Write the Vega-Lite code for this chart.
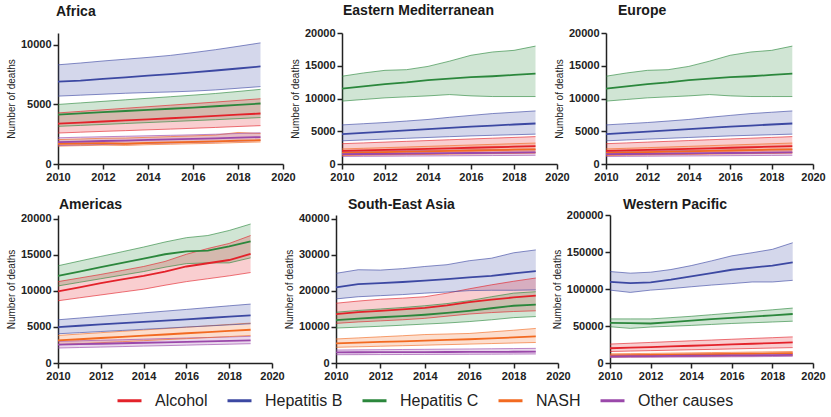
{
"$schema": "https://vega.github.io/schema/vega-lite/v6.json",
"padding": {"left": 6, "top": 4, "right": 2, "bottom": 2},
"datasets": {"d": [
{"r":"Africa","c":"Hepatitis B","y":2010,"m":6920,"lo":5700,"hi":8330},
{"r":"Africa","c":"Hepatitis B","y":2011,"m":7000,"lo":5780,"hi":8480},
{"r":"Africa","c":"Hepatitis B","y":2012,"m":7150,"lo":5860,"hi":8650},
{"r":"Africa","c":"Hepatitis B","y":2013,"m":7280,"lo":5940,"hi":8800},
{"r":"Africa","c":"Hepatitis B","y":2014,"m":7420,"lo":6000,"hi":8950},
{"r":"Africa","c":"Hepatitis B","y":2015,"m":7550,"lo":6050,"hi":9120},
{"r":"Africa","c":"Hepatitis B","y":2016,"m":7700,"lo":6120,"hi":9350},
{"r":"Africa","c":"Hepatitis B","y":2017,"m":7850,"lo":6220,"hi":9600},
{"r":"Africa","c":"Hepatitis B","y":2018,"m":8020,"lo":6360,"hi":9880},
{"r":"Africa","c":"Hepatitis B","y":2019,"m":8190,"lo":6500,"hi":10170},
{"r":"Africa","c":"Hepatitis C","y":2010,"m":4150,"lo":3160,"hi":5000},
{"r":"Africa","c":"Hepatitis C","y":2011,"m":4250,"lo":3240,"hi":5130},
{"r":"Africa","c":"Hepatitis C","y":2012,"m":4350,"lo":3320,"hi":5260},
{"r":"Africa","c":"Hepatitis C","y":2013,"m":4450,"lo":3400,"hi":5390},
{"r":"Africa","c":"Hepatitis C","y":2014,"m":4540,"lo":3480,"hi":5520},
{"r":"Africa","c":"Hepatitis C","y":2015,"m":4640,"lo":3560,"hi":5650},
{"r":"Africa","c":"Hepatitis C","y":2016,"m":4740,"lo":3640,"hi":5780},
{"r":"Africa","c":"Hepatitis C","y":2017,"m":4850,"lo":3720,"hi":5920},
{"r":"Africa","c":"Hepatitis C","y":2018,"m":4960,"lo":3810,"hi":6090},
{"r":"Africa","c":"Hepatitis C","y":2019,"m":5080,"lo":3900,"hi":6270},
{"r":"Africa","c":"Alcohol","y":2010,"m":3390,"lo":2600,"hi":4290},
{"r":"Africa","c":"Alcohol","y":2011,"m":3480,"lo":2670,"hi":4420},
{"r":"Africa","c":"Alcohol","y":2012,"m":3570,"lo":2740,"hi":4550},
{"r":"Africa","c":"Alcohol","y":2013,"m":3660,"lo":2800,"hi":4680},
{"r":"Africa","c":"Alcohol","y":2014,"m":3750,"lo":2870,"hi":4810},
{"r":"Africa","c":"Alcohol","y":2015,"m":3840,"lo":2930,"hi":4940},
{"r":"Africa","c":"Alcohol","y":2016,"m":3940,"lo":3000,"hi":5070},
{"r":"Africa","c":"Alcohol","y":2017,"m":4040,"lo":3070,"hi":5200},
{"r":"Africa","c":"Alcohol","y":2018,"m":4140,"lo":3150,"hi":5340},
{"r":"Africa","c":"Alcohol","y":2019,"m":4240,"lo":3220,"hi":5480},
{"r":"Africa","c":"NASH","y":2010,"m":1700,"lo":1500,"hi":2050},
{"r":"Africa","c":"NASH","y":2011,"m":1720,"lo":1540,"hi":2100},
{"r":"Africa","c":"NASH","y":2012,"m":1760,"lo":1580,"hi":2160},
{"r":"Africa","c":"NASH","y":2013,"m":1700,"lo":1560,"hi":2180},
{"r":"Africa","c":"NASH","y":2014,"m":1780,"lo":1620,"hi":2240},
{"r":"Africa","c":"NASH","y":2015,"m":1820,"lo":1660,"hi":2300},
{"r":"Africa","c":"NASH","y":2016,"m":1860,"lo":1700,"hi":2360},
{"r":"Africa","c":"NASH","y":2017,"m":1900,"lo":1740,"hi":2430},
{"r":"Africa","c":"NASH","y":2018,"m":1960,"lo":1800,"hi":2650},
{"r":"Africa","c":"NASH","y":2019,"m":2000,"lo":1850,"hi":2560},
{"r":"Africa","c":"Other causes","y":2010,"m":1840,"lo":1550,"hi":2200},
{"r":"Africa","c":"Other causes","y":2011,"m":1880,"lo":1600,"hi":2250},
{"r":"Africa","c":"Other causes","y":2012,"m":1930,"lo":1640,"hi":2290},
{"r":"Africa","c":"Other causes","y":2013,"m":1970,"lo":1680,"hi":2330},
{"r":"Africa","c":"Other causes","y":2014,"m":2020,"lo":1730,"hi":2370},
{"r":"Africa","c":"Other causes","y":2015,"m":2060,"lo":1770,"hi":2410},
{"r":"Africa","c":"Other causes","y":2016,"m":2110,"lo":1810,"hi":2450},
{"r":"Africa","c":"Other causes","y":2017,"m":2160,"lo":1860,"hi":2500},
{"r":"Africa","c":"Other causes","y":2018,"m":2210,"lo":1920,"hi":2560},
{"r":"Africa","c":"Other causes","y":2019,"m":2260,"lo":1980,"hi":2620},
{"r":"Eastern Mediterranean","c":"Hepatitis C","y":2010,"m":11500,"lo":9600,"hi":13400},
{"r":"Eastern Mediterranean","c":"Hepatitis C","y":2011,"m":11850,"lo":9850,"hi":13900},
{"r":"Eastern Mediterranean","c":"Hepatitis C","y":2012,"m":12200,"lo":10100,"hi":14300},
{"r":"Eastern Mediterranean","c":"Hepatitis C","y":2013,"m":12450,"lo":10250,"hi":14400},
{"r":"Eastern Mediterranean","c":"Hepatitis C","y":2014,"m":12800,"lo":10400,"hi":14900},
{"r":"Eastern Mediterranean","c":"Hepatitis C","y":2015,"m":13050,"lo":10600,"hi":15700},
{"r":"Eastern Mediterranean","c":"Hepatitis C","y":2016,"m":13250,"lo":10400,"hi":16600},
{"r":"Eastern Mediterranean","c":"Hepatitis C","y":2017,"m":13400,"lo":10300,"hi":17100},
{"r":"Eastern Mediterranean","c":"Hepatitis C","y":2018,"m":13600,"lo":10300,"hi":17350},
{"r":"Eastern Mediterranean","c":"Hepatitis C","y":2019,"m":13800,"lo":10300,"hi":18000},
{"r":"Eastern Mediterranean","c":"Hepatitis B","y":2010,"m":4560,"lo":3540,"hi":5970},
{"r":"Eastern Mediterranean","c":"Hepatitis B","y":2011,"m":4750,"lo":3670,"hi":6150},
{"r":"Eastern Mediterranean","c":"Hepatitis B","y":2012,"m":4950,"lo":3800,"hi":6330},
{"r":"Eastern Mediterranean","c":"Hepatitis B","y":2013,"m":5130,"lo":3920,"hi":6560},
{"r":"Eastern Mediterranean","c":"Hepatitis B","y":2014,"m":5320,"lo":4050,"hi":6800},
{"r":"Eastern Mediterranean","c":"Hepatitis B","y":2015,"m":5520,"lo":4170,"hi":7130},
{"r":"Eastern Mediterranean","c":"Hepatitis B","y":2016,"m":5700,"lo":4290,"hi":7420},
{"r":"Eastern Mediterranean","c":"Hepatitis B","y":2017,"m":5870,"lo":4380,"hi":7700},
{"r":"Eastern Mediterranean","c":"Hepatitis B","y":2018,"m":6030,"lo":4470,"hi":7900},
{"r":"Eastern Mediterranean","c":"Hepatitis B","y":2019,"m":6180,"lo":4560,"hi":8100},
{"r":"Eastern Mediterranean","c":"Alcohol","y":2010,"m":2000,"lo":1400,"hi":3100},
{"r":"Eastern Mediterranean","c":"Alcohol","y":2011,"m":2080,"lo":1440,"hi":3220},
{"r":"Eastern Mediterranean","c":"Alcohol","y":2012,"m":2160,"lo":1480,"hi":3340},
{"r":"Eastern Mediterranean","c":"Alcohol","y":2013,"m":2240,"lo":1520,"hi":3460},
{"r":"Eastern Mediterranean","c":"Alcohol","y":2014,"m":2320,"lo":1560,"hi":3580},
{"r":"Eastern Mediterranean","c":"Alcohol","y":2015,"m":2400,"lo":1600,"hi":3700},
{"r":"Eastern Mediterranean","c":"Alcohol","y":2016,"m":2480,"lo":1640,"hi":3820},
{"r":"Eastern Mediterranean","c":"Alcohol","y":2017,"m":2560,"lo":1680,"hi":3940},
{"r":"Eastern Mediterranean","c":"Alcohol","y":2018,"m":2640,"lo":1720,"hi":4060},
{"r":"Eastern Mediterranean","c":"Alcohol","y":2019,"m":2720,"lo":1760,"hi":4180},
{"r":"Eastern Mediterranean","c":"NASH","y":2010,"m":1700,"lo":1300,"hi":2300},
{"r":"Eastern Mediterranean","c":"NASH","y":2011,"m":1760,"lo":1340,"hi":2400},
{"r":"Eastern Mediterranean","c":"NASH","y":2012,"m":1820,"lo":1380,"hi":2500},
{"r":"Eastern Mediterranean","c":"NASH","y":2013,"m":1880,"lo":1420,"hi":2600},
{"r":"Eastern Mediterranean","c":"NASH","y":2014,"m":1940,"lo":1460,"hi":2700},
{"r":"Eastern Mediterranean","c":"NASH","y":2015,"m":2000,"lo":1500,"hi":2800},
{"r":"Eastern Mediterranean","c":"NASH","y":2016,"m":2060,"lo":1540,"hi":2900},
{"r":"Eastern Mediterranean","c":"NASH","y":2017,"m":2120,"lo":1580,"hi":3000},
{"r":"Eastern Mediterranean","c":"NASH","y":2018,"m":2180,"lo":1620,"hi":3100},
{"r":"Eastern Mediterranean","c":"NASH","y":2019,"m":2240,"lo":1660,"hi":3200},
{"r":"Eastern Mediterranean","c":"Other causes","y":2010,"m":1500,"lo":1150,"hi":1900},
{"r":"Eastern Mediterranean","c":"Other causes","y":2011,"m":1530,"lo":1170,"hi":1940},
{"r":"Eastern Mediterranean","c":"Other causes","y":2012,"m":1560,"lo":1190,"hi":1980},
{"r":"Eastern Mediterranean","c":"Other causes","y":2013,"m":1590,"lo":1210,"hi":2020},
{"r":"Eastern Mediterranean","c":"Other causes","y":2014,"m":1620,"lo":1230,"hi":2060},
{"r":"Eastern Mediterranean","c":"Other causes","y":2015,"m":1650,"lo":1250,"hi":2100},
{"r":"Eastern Mediterranean","c":"Other causes","y":2016,"m":1680,"lo":1270,"hi":2140},
{"r":"Eastern Mediterranean","c":"Other causes","y":2017,"m":1710,"lo":1290,"hi":2180},
{"r":"Eastern Mediterranean","c":"Other causes","y":2018,"m":1740,"lo":1310,"hi":2220},
{"r":"Eastern Mediterranean","c":"Other causes","y":2019,"m":1770,"lo":1330,"hi":2260},
{"r":"Europe","c":"Hepatitis C","y":2010,"m":11500,"lo":9600,"hi":13400},
{"r":"Europe","c":"Hepatitis C","y":2011,"m":11850,"lo":9850,"hi":13900},
{"r":"Europe","c":"Hepatitis C","y":2012,"m":12200,"lo":10100,"hi":14300},
{"r":"Europe","c":"Hepatitis C","y":2013,"m":12450,"lo":10250,"hi":14400},
{"r":"Europe","c":"Hepatitis C","y":2014,"m":12800,"lo":10400,"hi":14900},
{"r":"Europe","c":"Hepatitis C","y":2015,"m":13050,"lo":10600,"hi":15700},
{"r":"Europe","c":"Hepatitis C","y":2016,"m":13250,"lo":10400,"hi":16600},
{"r":"Europe","c":"Hepatitis C","y":2017,"m":13400,"lo":10300,"hi":17100},
{"r":"Europe","c":"Hepatitis C","y":2018,"m":13600,"lo":10300,"hi":17350},
{"r":"Europe","c":"Hepatitis C","y":2019,"m":13800,"lo":10300,"hi":18000},
{"r":"Europe","c":"Hepatitis B","y":2010,"m":4560,"lo":3540,"hi":5970},
{"r":"Europe","c":"Hepatitis B","y":2011,"m":4750,"lo":3670,"hi":6150},
{"r":"Europe","c":"Hepatitis B","y":2012,"m":4950,"lo":3800,"hi":6330},
{"r":"Europe","c":"Hepatitis B","y":2013,"m":5130,"lo":3920,"hi":6560},
{"r":"Europe","c":"Hepatitis B","y":2014,"m":5320,"lo":4050,"hi":6800},
{"r":"Europe","c":"Hepatitis B","y":2015,"m":5520,"lo":4170,"hi":7130},
{"r":"Europe","c":"Hepatitis B","y":2016,"m":5700,"lo":4290,"hi":7420},
{"r":"Europe","c":"Hepatitis B","y":2017,"m":5870,"lo":4380,"hi":7700},
{"r":"Europe","c":"Hepatitis B","y":2018,"m":6030,"lo":4470,"hi":7900},
{"r":"Europe","c":"Hepatitis B","y":2019,"m":6180,"lo":4560,"hi":8100},
{"r":"Europe","c":"Alcohol","y":2010,"m":2000,"lo":1400,"hi":3100},
{"r":"Europe","c":"Alcohol","y":2011,"m":2080,"lo":1440,"hi":3220},
{"r":"Europe","c":"Alcohol","y":2012,"m":2160,"lo":1480,"hi":3340},
{"r":"Europe","c":"Alcohol","y":2013,"m":2240,"lo":1520,"hi":3460},
{"r":"Europe","c":"Alcohol","y":2014,"m":2320,"lo":1560,"hi":3580},
{"r":"Europe","c":"Alcohol","y":2015,"m":2400,"lo":1600,"hi":3700},
{"r":"Europe","c":"Alcohol","y":2016,"m":2480,"lo":1640,"hi":3820},
{"r":"Europe","c":"Alcohol","y":2017,"m":2560,"lo":1680,"hi":3940},
{"r":"Europe","c":"Alcohol","y":2018,"m":2640,"lo":1720,"hi":4060},
{"r":"Europe","c":"Alcohol","y":2019,"m":2720,"lo":1760,"hi":4180},
{"r":"Europe","c":"NASH","y":2010,"m":1700,"lo":1300,"hi":2300},
{"r":"Europe","c":"NASH","y":2011,"m":1760,"lo":1340,"hi":2400},
{"r":"Europe","c":"NASH","y":2012,"m":1820,"lo":1380,"hi":2500},
{"r":"Europe","c":"NASH","y":2013,"m":1880,"lo":1420,"hi":2600},
{"r":"Europe","c":"NASH","y":2014,"m":1940,"lo":1460,"hi":2700},
{"r":"Europe","c":"NASH","y":2015,"m":2000,"lo":1500,"hi":2800},
{"r":"Europe","c":"NASH","y":2016,"m":2060,"lo":1540,"hi":2900},
{"r":"Europe","c":"NASH","y":2017,"m":2120,"lo":1580,"hi":3000},
{"r":"Europe","c":"NASH","y":2018,"m":2180,"lo":1620,"hi":3100},
{"r":"Europe","c":"NASH","y":2019,"m":2240,"lo":1660,"hi":3200},
{"r":"Europe","c":"Other causes","y":2010,"m":1500,"lo":1150,"hi":1900},
{"r":"Europe","c":"Other causes","y":2011,"m":1530,"lo":1170,"hi":1940},
{"r":"Europe","c":"Other causes","y":2012,"m":1560,"lo":1190,"hi":1980},
{"r":"Europe","c":"Other causes","y":2013,"m":1590,"lo":1210,"hi":2020},
{"r":"Europe","c":"Other causes","y":2014,"m":1620,"lo":1230,"hi":2060},
{"r":"Europe","c":"Other causes","y":2015,"m":1650,"lo":1250,"hi":2100},
{"r":"Europe","c":"Other causes","y":2016,"m":1680,"lo":1270,"hi":2140},
{"r":"Europe","c":"Other causes","y":2017,"m":1710,"lo":1290,"hi":2180},
{"r":"Europe","c":"Other causes","y":2018,"m":1740,"lo":1310,"hi":2220},
{"r":"Europe","c":"Other causes","y":2019,"m":1770,"lo":1330,"hi":2260},
{"r":"Americas","c":"Hepatitis C","y":2010,"m":12100,"lo":10700,"hi":13500},
{"r":"Americas","c":"Hepatitis C","y":2011,"m":12700,"lo":11200,"hi":14150},
{"r":"Americas","c":"Hepatitis C","y":2012,"m":13300,"lo":11700,"hi":14800},
{"r":"Americas","c":"Hepatitis C","y":2013,"m":13900,"lo":12200,"hi":15450},
{"r":"Americas","c":"Hepatitis C","y":2014,"m":14500,"lo":12700,"hi":16100},
{"r":"Americas","c":"Hepatitis C","y":2015,"m":15100,"lo":13300,"hi":16800},
{"r":"Americas","c":"Hepatitis C","y":2016,"m":15500,"lo":13800,"hi":17400},
{"r":"Americas","c":"Hepatitis C","y":2017,"m":15600,"lo":13900,"hi":17700},
{"r":"Americas","c":"Hepatitis C","y":2018,"m":16200,"lo":13900,"hi":18400},
{"r":"Americas","c":"Hepatitis C","y":2019,"m":16900,"lo":14600,"hi":19300},
{"r":"Americas","c":"Alcohol","y":2010,"m":9930,"lo":8640,"hi":11300},
{"r":"Americas","c":"Alcohol","y":2011,"m":10500,"lo":9050,"hi":11800},
{"r":"Americas","c":"Alcohol","y":2012,"m":11100,"lo":9450,"hi":12300},
{"r":"Americas","c":"Alcohol","y":2013,"m":11600,"lo":9850,"hi":12850},
{"r":"Americas","c":"Alcohol","y":2014,"m":12100,"lo":10250,"hi":13400},
{"r":"Americas","c":"Alcohol","y":2015,"m":12700,"lo":10800,"hi":14100},
{"r":"Americas","c":"Alcohol","y":2016,"m":13400,"lo":11300,"hi":15100},
{"r":"Americas","c":"Alcohol","y":2017,"m":13850,"lo":11700,"hi":15900},
{"r":"Americas","c":"Alcohol","y":2018,"m":14300,"lo":12100,"hi":16600},
{"r":"Americas","c":"Alcohol","y":2019,"m":15150,"lo":12560,"hi":17700},
{"r":"Americas","c":"Hepatitis B","y":2010,"m":4990,"lo":4060,"hi":6000},
{"r":"Americas","c":"Hepatitis B","y":2011,"m":5170,"lo":4210,"hi":6240},
{"r":"Americas","c":"Hepatitis B","y":2012,"m":5350,"lo":4370,"hi":6480},
{"r":"Americas","c":"Hepatitis B","y":2013,"m":5530,"lo":4520,"hi":6720},
{"r":"Americas","c":"Hepatitis B","y":2014,"m":5710,"lo":4680,"hi":6960},
{"r":"Americas","c":"Hepatitis B","y":2015,"m":5890,"lo":4830,"hi":7200},
{"r":"Americas","c":"Hepatitis B","y":2016,"m":6070,"lo":4990,"hi":7440},
{"r":"Americas","c":"Hepatitis B","y":2017,"m":6250,"lo":5140,"hi":7690},
{"r":"Americas","c":"Hepatitis B","y":2018,"m":6430,"lo":5300,"hi":7940},
{"r":"Americas","c":"Hepatitis B","y":2019,"m":6600,"lo":5450,"hi":8180},
{"r":"Americas","c":"NASH","y":2010,"m":3140,"lo":2540,"hi":3830},
{"r":"Americas","c":"NASH","y":2011,"m":3300,"lo":2680,"hi":4020},
{"r":"Americas","c":"NASH","y":2012,"m":3470,"lo":2820,"hi":4210},
{"r":"Americas","c":"NASH","y":2013,"m":3630,"lo":2960,"hi":4400},
{"r":"Americas","c":"NASH","y":2014,"m":3800,"lo":3100,"hi":4590},
{"r":"Americas","c":"NASH","y":2015,"m":3960,"lo":3240,"hi":4780},
{"r":"Americas","c":"NASH","y":2016,"m":4130,"lo":3380,"hi":4970},
{"r":"Americas","c":"NASH","y":2017,"m":4290,"lo":3520,"hi":5160},
{"r":"Americas","c":"NASH","y":2018,"m":4460,"lo":3670,"hi":5350},
{"r":"Americas","c":"NASH","y":2019,"m":4620,"lo":3830,"hi":5540},
{"r":"Americas","c":"Other causes","y":2010,"m":2540,"lo":2080,"hi":3000},
{"r":"Americas","c":"Other causes","y":2011,"m":2610,"lo":2150,"hi":3080},
{"r":"Americas","c":"Other causes","y":2012,"m":2670,"lo":2210,"hi":3160},
{"r":"Americas","c":"Other causes","y":2013,"m":2740,"lo":2280,"hi":3230},
{"r":"Americas","c":"Other causes","y":2014,"m":2810,"lo":2350,"hi":3310},
{"r":"Americas","c":"Other causes","y":2015,"m":2870,"lo":2410,"hi":3390},
{"r":"Americas","c":"Other causes","y":2016,"m":2940,"lo":2480,"hi":3470},
{"r":"Americas","c":"Other causes","y":2017,"m":3010,"lo":2550,"hi":3540},
{"r":"Americas","c":"Other causes","y":2018,"m":3070,"lo":2610,"hi":3620},
{"r":"Americas","c":"Other causes","y":2019,"m":3140,"lo":2680,"hi":3700},
{"r":"South-East Asia","c":"Hepatitis B","y":2010,"m":21000,"lo":17800,"hi":24900},
{"r":"South-East Asia","c":"Hepatitis B","y":2011,"m":21900,"lo":18400,"hi":25900},
{"r":"South-East Asia","c":"Hepatitis B","y":2012,"m":22200,"lo":18700,"hi":25800},
{"r":"South-East Asia","c":"Hepatitis B","y":2013,"m":22500,"lo":19000,"hi":26200},
{"r":"South-East Asia","c":"Hepatitis B","y":2014,"m":22900,"lo":19400,"hi":26800},
{"r":"South-East Asia","c":"Hepatitis B","y":2015,"m":23300,"lo":19700,"hi":27300},
{"r":"South-East Asia","c":"Hepatitis B","y":2016,"m":23800,"lo":20100,"hi":28400},
{"r":"South-East Asia","c":"Hepatitis B","y":2017,"m":24200,"lo":20200,"hi":29100},
{"r":"South-East Asia","c":"Hepatitis B","y":2018,"m":24900,"lo":20200,"hi":30600},
{"r":"South-East Asia","c":"Hepatitis B","y":2019,"m":25500,"lo":20300,"hi":31400},
{"r":"South-East Asia","c":"Alcohol","y":2010,"m":13600,"lo":11000,"hi":16600},
{"r":"South-East Asia","c":"Alcohol","y":2011,"m":14100,"lo":11400,"hi":17200},
{"r":"South-East Asia","c":"Alcohol","y":2012,"m":14500,"lo":11700,"hi":17700},
{"r":"South-East Asia","c":"Alcohol","y":2013,"m":14900,"lo":12000,"hi":18000},
{"r":"South-East Asia","c":"Alcohol","y":2014,"m":15300,"lo":12400,"hi":18400},
{"r":"South-East Asia","c":"Alcohol","y":2015,"m":16000,"lo":13000,"hi":19400},
{"r":"South-East Asia","c":"Alcohol","y":2016,"m":16900,"lo":13600,"hi":20600},
{"r":"South-East Asia","c":"Alcohol","y":2017,"m":17600,"lo":14000,"hi":21700},
{"r":"South-East Asia","c":"Alcohol","y":2018,"m":18200,"lo":14300,"hi":22700},
{"r":"South-East Asia","c":"Alcohol","y":2019,"m":18700,"lo":14500,"hi":23600},
{"r":"South-East Asia","c":"Hepatitis C","y":2010,"m":11900,"lo":9700,"hi":14100},
{"r":"South-East Asia","c":"Hepatitis C","y":2011,"m":12300,"lo":9950,"hi":14600},
{"r":"South-East Asia","c":"Hepatitis C","y":2012,"m":12700,"lo":10200,"hi":15000},
{"r":"South-East Asia","c":"Hepatitis C","y":2013,"m":13000,"lo":10500,"hi":15400},
{"r":"South-East Asia","c":"Hepatitis C","y":2014,"m":13400,"lo":10800,"hi":15900},
{"r":"South-East Asia","c":"Hepatitis C","y":2015,"m":13900,"lo":11100,"hi":16500},
{"r":"South-East Asia","c":"Hepatitis C","y":2016,"m":14500,"lo":11500,"hi":17300},
{"r":"South-East Asia","c":"Hepatitis C","y":2017,"m":15200,"lo":12000,"hi":18400},
{"r":"South-East Asia","c":"Hepatitis C","y":2018,"m":15900,"lo":12600,"hi":19400},
{"r":"South-East Asia","c":"Hepatitis C","y":2019,"m":16200,"lo":12900,"hi":19800},
{"r":"South-East Asia","c":"NASH","y":2010,"m":5460,"lo":4350,"hi":6670},
{"r":"South-East Asia","c":"NASH","y":2011,"m":5650,"lo":4500,"hi":6970},
{"r":"South-East Asia","c":"NASH","y":2012,"m":5840,"lo":4650,"hi":7270},
{"r":"South-East Asia","c":"NASH","y":2013,"m":6020,"lo":4800,"hi":7570},
{"r":"South-East Asia","c":"NASH","y":2014,"m":6200,"lo":4950,"hi":7900},
{"r":"South-East Asia","c":"NASH","y":2015,"m":6400,"lo":5100,"hi":8050},
{"r":"South-East Asia","c":"NASH","y":2016,"m":6600,"lo":5250,"hi":8200},
{"r":"South-East Asia","c":"NASH","y":2017,"m":6850,"lo":5400,"hi":8650},
{"r":"South-East Asia","c":"NASH","y":2018,"m":7100,"lo":5550,"hi":9100},
{"r":"South-East Asia","c":"NASH","y":2019,"m":7400,"lo":5700,"hi":9600},
{"r":"South-East Asia","c":"Other causes","y":2010,"m":2960,"lo":2300,"hi":3600},
{"r":"South-East Asia","c":"Other causes","y":2011,"m":2980,"lo":2320,"hi":3650},
{"r":"South-East Asia","c":"Other causes","y":2012,"m":3000,"lo":2340,"hi":3700},
{"r":"South-East Asia","c":"Other causes","y":2013,"m":3020,"lo":2360,"hi":3750},
{"r":"South-East Asia","c":"Other causes","y":2014,"m":3040,"lo":2380,"hi":3800},
{"r":"South-East Asia","c":"Other causes","y":2015,"m":3060,"lo":2400,"hi":3850},
{"r":"South-East Asia","c":"Other causes","y":2016,"m":3080,"lo":2420,"hi":3900},
{"r":"South-East Asia","c":"Other causes","y":2017,"m":3100,"lo":2440,"hi":3950},
{"r":"South-East Asia","c":"Other causes","y":2018,"m":3120,"lo":2470,"hi":4010},
{"r":"South-East Asia","c":"Other causes","y":2019,"m":3150,"lo":2500,"hi":4070},
{"r":"Western Pacific","c":"Hepatitis B","y":2010,"m":109500,"lo":98500,"hi":123600},
{"r":"Western Pacific","c":"Hepatitis B","y":2011,"m":108000,"lo":95400,"hi":121400},
{"r":"Western Pacific","c":"Hepatitis B","y":2012,"m":109000,"lo":98500,"hi":122700},
{"r":"Western Pacific","c":"Hepatitis B","y":2013,"m":112600,"lo":100500,"hi":126300},
{"r":"Western Pacific","c":"Hepatitis B","y":2014,"m":117000,"lo":103000,"hi":131600},
{"r":"Western Pacific","c":"Hepatitis B","y":2015,"m":121500,"lo":105300,"hi":138000},
{"r":"Western Pacific","c":"Hepatitis B","y":2016,"m":126000,"lo":107300,"hi":144800},
{"r":"Western Pacific","c":"Hepatitis B","y":2017,"m":129000,"lo":109500,"hi":149000},
{"r":"Western Pacific","c":"Hepatitis B","y":2018,"m":131600,"lo":109500,"hi":153600},
{"r":"Western Pacific","c":"Hepatitis B","y":2019,"m":136000,"lo":111700,"hi":162500},
{"r":"Western Pacific","c":"Hepatitis C","y":2010,"m":54300,"lo":49000,"hi":59600},
{"r":"Western Pacific","c":"Hepatitis C","y":2011,"m":53800,"lo":46800,"hi":59600},
{"r":"Western Pacific","c":"Hepatitis C","y":2012,"m":53400,"lo":48600,"hi":59600},
{"r":"Western Pacific","c":"Hepatitis C","y":2013,"m":55300,"lo":49700,"hi":61300},
{"r":"Western Pacific","c":"Hepatitis C","y":2014,"m":57400,"lo":50800,"hi":63100},
{"r":"Western Pacific","c":"Hepatitis C","y":2015,"m":59200,"lo":52100,"hi":65300},
{"r":"Western Pacific","c":"Hepatitis C","y":2016,"m":61000,"lo":53400,"hi":67500},
{"r":"Western Pacific","c":"Hepatitis C","y":2017,"m":62700,"lo":54400,"hi":69700},
{"r":"Western Pacific","c":"Hepatitis C","y":2018,"m":64400,"lo":55400,"hi":71900},
{"r":"Western Pacific","c":"Hepatitis C","y":2019,"m":66200,"lo":56500,"hi":74200},
{"r":"Western Pacific","c":"Alcohol","y":2010,"m":19900,"lo":15500,"hi":25600},
{"r":"Western Pacific","c":"Alcohol","y":2011,"m":20700,"lo":16100,"hi":26700},
{"r":"Western Pacific","c":"Alcohol","y":2012,"m":21500,"lo":16700,"hi":27800},
{"r":"Western Pacific","c":"Alcohol","y":2013,"m":22400,"lo":17300,"hi":28900},
{"r":"Western Pacific","c":"Alcohol","y":2014,"m":23300,"lo":17900,"hi":30000},
{"r":"Western Pacific","c":"Alcohol","y":2015,"m":24200,"lo":18400,"hi":31000},
{"r":"Western Pacific","c":"Alcohol","y":2016,"m":25100,"lo":19000,"hi":32100},
{"r":"Western Pacific","c":"Alcohol","y":2017,"m":26000,"lo":19600,"hi":33200},
{"r":"Western Pacific","c":"Alcohol","y":2018,"m":26900,"lo":20200,"hi":34200},
{"r":"Western Pacific","c":"Alcohol","y":2019,"m":27800,"lo":20800,"hi":35300},
{"r":"Western Pacific","c":"NASH","y":2010,"m":10200,"lo":7900,"hi":12400},
{"r":"Western Pacific","c":"NASH","y":2011,"m":10500,"lo":8150,"hi":12700},
{"r":"Western Pacific","c":"NASH","y":2012,"m":10800,"lo":8400,"hi":13000},
{"r":"Western Pacific","c":"NASH","y":2013,"m":11200,"lo":8700,"hi":13400},
{"r":"Western Pacific","c":"NASH","y":2014,"m":11500,"lo":8900,"hi":13700},
{"r":"Western Pacific","c":"NASH","y":2015,"m":11800,"lo":9200,"hi":14100},
{"r":"Western Pacific","c":"NASH","y":2016,"m":12200,"lo":9400,"hi":14400},
{"r":"Western Pacific","c":"NASH","y":2017,"m":12500,"lo":9700,"hi":14800},
{"r":"Western Pacific","c":"NASH","y":2018,"m":12900,"lo":9900,"hi":15100},
{"r":"Western Pacific","c":"NASH","y":2019,"m":13200,"lo":10200,"hi":15500},
{"r":"Western Pacific","c":"Other causes","y":2010,"m":9000,"lo":7500,"hi":10500},
{"r":"Western Pacific","c":"Other causes","y":2011,"m":9200,"lo":7650,"hi":10800},
{"r":"Western Pacific","c":"Other causes","y":2012,"m":9400,"lo":7800,"hi":11100},
{"r":"Western Pacific","c":"Other causes","y":2013,"m":9600,"lo":7950,"hi":11400},
{"r":"Western Pacific","c":"Other causes","y":2014,"m":9800,"lo":8100,"hi":11700},
{"r":"Western Pacific","c":"Other causes","y":2015,"m":10000,"lo":8250,"hi":12000},
{"r":"Western Pacific","c":"Other causes","y":2016,"m":10200,"lo":8400,"hi":12300},
{"r":"Western Pacific","c":"Other causes","y":2017,"m":10400,"lo":8550,"hi":12600},
{"r":"Western Pacific","c":"Other causes","y":2018,"m":10700,"lo":8750,"hi":12900},
{"r":"Western Pacific","c":"Other causes","y":2019,"m":11000,"lo":9000,"hi":13200}
]},
"data": {"name": "d"},
"config": {
  "view": {"stroke": null},
  "font": "Liberation Sans",
  "title": {"font": "Liberation Sans", "fontSize": 14, "fontWeight": "bold", "color": "#1a1a1a", "anchor": "start", "frame": "group"},
  "axis": {"grid": false, "domainColor": "#222", "domainWidth": 1.5, "tickColor": "#222", "tickWidth": 1.5, "tickSize": 5, "labelFont": "Liberation Sans", "labelFontWeight": "bold", "labelFontSize": 11, "labelColor": "#222", "titleFont": "Liberation Sans", "titleFontSize": 10, "titleFontWeight": "normal", "titleColor": "#222", "labelPadding": 2, "labelFlush": false, "labelOverlap": false},
  "legend": {"labelFont": "Liberation Sans", "labelFontSize": 16, "labelColor": "#222", "symbolType": "stroke", "symbolStrokeWidth": 3, "symbolSize": 576, "labelOffset": 12, "columnPadding": 13, "direction": "horizontal", "title": null, "symbolOpacity": 1}
},
"spacing": 15,
"vconcat": [
 {"bounds": "flush", "hconcat": [
  {"width": 225, "height": 131,
   "title": {"text": "Africa", "dx": -2, "offset": 14},
   "transform": [{"filter": "datum.r === 'Africa'"}],
   "encoding": {"x": {"field": "y", "type": "quantitative", "scale": {"domain": [2010, 2020], "nice": false}, "axis": {"values": [2010, 2012, 2014, 2016, 2018, 2020], "format": "d", "title": null}}},
   "layer": [
    {"mark": {"type": "area", "opacity": 0.22}, "encoding": {"y": {"field": "lo", "type": "quantitative", "scale": {"domain": [0, 11000], "nice": false}, "axis": {"values": [0, 5000, 10000], "format": "d", "title": "Number of deaths"}}, "y2": {"field": "hi"}, "color": {"field": "c", "type": "nominal", "scale": {"domain": ["Alcohol", "Hepatitis B", "Hepatitis C", "NASH", "Other causes"], "range": ["#e3222a", "#3c48a2", "#2b873c", "#f26a21", "#9a48aa"]}}}},
    {"mark": {"type": "line", "strokeWidth": 0.9, "opacity": 0.7}, "encoding": {"y": {"field": "hi", "type": "quantitative", "axis": {"values": [0, 5000, 10000], "format": "d", "title": "Number of deaths"}}, "color": {"field": "c", "type": "nominal"}}},
    {"mark": {"type": "line", "strokeWidth": 0.9, "opacity": 0.7}, "encoding": {"y": {"field": "lo", "type": "quantitative", "axis": {"values": [0, 5000, 10000], "format": "d", "title": "Number of deaths"}}, "color": {"field": "c", "type": "nominal"}}},
    {"mark": {"type": "line", "strokeWidth": 1.8}, "encoding": {"y": {"field": "m", "type": "quantitative", "axis": {"values": [0, 5000, 10000], "format": "d", "title": "Number of deaths"}}, "color": {"field": "c", "type": "nominal", "legend": {"orient": "none", "legendX": 58, "legendY": 354, "direction": "horizontal", "title": null}}}}
   ]},
  {"bounds": "flush", "hconcat": [
   {"width": 215, "height": 131,
    "title": {"text": "Eastern Mediterranean", "dx": 1, "offset": 9},
    "transform": [{"filter": "datum.r === 'Eastern Mediterranean'"}],
    "encoding": {"x": {"field": "y", "type": "quantitative", "scale": {"domain": [2010, 2020], "nice": false}, "axis": {"values": [2010, 2012, 2014, 2016, 2018, 2020], "format": "d", "title": null}}},
    "layer": [
     {"mark": {"type": "area", "opacity": 0.22}, "encoding": {"y": {"field": "lo", "type": "quantitative", "scale": {"domain": [0, 20000], "nice": false}, "axis": {"values": [0, 5000, 10000, 15000, 20000], "format": "d", "title": "Number of deaths"}}, "y2": {"field": "hi"}, "color": {"field": "c", "type": "nominal"}}},
     {"mark": {"type": "line", "strokeWidth": 0.9, "opacity": 0.7}, "encoding": {"y": {"field": "hi", "type": "quantitative", "axis": {"values": [0, 5000, 10000, 15000, 20000], "format": "d", "title": "Number of deaths"}}, "color": {"field": "c", "type": "nominal"}}},
     {"mark": {"type": "line", "strokeWidth": 0.9, "opacity": 0.7}, "encoding": {"y": {"field": "lo", "type": "quantitative", "axis": {"values": [0, 5000, 10000, 15000, 20000], "format": "d", "title": "Number of deaths"}}, "color": {"field": "c", "type": "nominal"}}},
     {"mark": {"type": "line", "strokeWidth": 1.8}, "encoding": {"y": {"field": "m", "type": "quantitative", "axis": {"values": [0, 5000, 10000, 15000, 20000], "format": "d", "title": "Number of deaths"}}, "color": {"field": "c", "type": "nominal"}}}
    ]},
   {"width": 207, "height": 131,
    "title": {"text": "Europe", "dx": 12, "offset": 9},
    "transform": [{"filter": "datum.r === 'Europe'"}],
    "encoding": {"x": {"field": "y", "type": "quantitative", "scale": {"domain": [2010, 2020], "nice": false}, "axis": {"values": [2010, 2012, 2014, 2016, 2018, 2020], "format": "d", "title": null}}},
    "layer": [
     {"mark": {"type": "area", "opacity": 0.22}, "encoding": {"y": {"field": "lo", "type": "quantitative", "scale": {"domain": [0, 20000], "nice": false}, "axis": {"values": [0, 5000, 10000, 15000, 20000], "format": "d", "title": "Number of deaths"}}, "y2": {"field": "hi"}, "color": {"field": "c", "type": "nominal"}}},
     {"mark": {"type": "line", "strokeWidth": 0.9, "opacity": 0.7}, "encoding": {"y": {"field": "hi", "type": "quantitative", "axis": {"values": [0, 5000, 10000, 15000, 20000], "format": "d", "title": "Number of deaths"}}, "color": {"field": "c", "type": "nominal"}}},
     {"mark": {"type": "line", "strokeWidth": 0.9, "opacity": 0.7}, "encoding": {"y": {"field": "lo", "type": "quantitative", "axis": {"values": [0, 5000, 10000, 15000, 20000], "format": "d", "title": "Number of deaths"}}, "color": {"field": "c", "type": "nominal"}}},
     {"mark": {"type": "line", "strokeWidth": 1.8}, "encoding": {"y": {"field": "m", "type": "quantitative", "axis": {"values": [0, 5000, 10000, 15000, 20000], "format": "d", "title": "Number of deaths"}}, "color": {"field": "c", "type": "nominal"}}}
    ]}
  ], "spacing": 49}
 ], "spacing": 59},
 {"bounds": "flush", "hconcat": [
  {"width": 214, "height": 148,
   "title": {"text": "Americas", "dx": 1, "offset": 1},
   "transform": [{"filter": "datum.r === 'Americas'"}],
   "encoding": {"x": {"field": "y", "type": "quantitative", "scale": {"domain": [2010, 2020], "nice": false}, "axis": {"values": [2010, 2012, 2014, 2016, 2018, 2020], "format": "d", "title": null}}},
   "layer": [
    {"mark": {"type": "area", "opacity": 0.22}, "encoding": {"y": {"field": "lo", "type": "quantitative", "scale": {"domain": [0, 20550], "nice": false}, "axis": {"values": [0, 5000, 10000, 15000, 20000], "format": "d", "title": "Number of deaths"}}, "y2": {"field": "hi"}, "color": {"field": "c", "type": "nominal"}}},
    {"mark": {"type": "line", "strokeWidth": 0.9, "opacity": 0.7}, "encoding": {"y": {"field": "hi", "type": "quantitative", "axis": {"values": [0, 5000, 10000, 15000, 20000], "format": "d", "title": "Number of deaths"}}, "color": {"field": "c", "type": "nominal"}}},
    {"mark": {"type": "line", "strokeWidth": 0.9, "opacity": 0.7}, "encoding": {"y": {"field": "lo", "type": "quantitative", "axis": {"values": [0, 5000, 10000, 15000, 20000], "format": "d", "title": "Number of deaths"}}, "color": {"field": "c", "type": "nominal"}}},
    {"mark": {"type": "line", "strokeWidth": 1.8}, "encoding": {"y": {"field": "m", "type": "quantitative", "axis": {"values": [0, 5000, 10000, 15000, 20000], "format": "d", "title": "Number of deaths"}}, "color": {"field": "c", "type": "nominal"}}}
   ]},
  {"bounds": "flush", "hconcat": [
   {"width": 222, "height": 148,
    "title": {"text": "South-East Asia", "dx": 12, "offset": 1},
    "transform": [{"filter": "datum.r === 'South-East Asia'"}],
    "encoding": {"x": {"field": "y", "type": "quantitative", "scale": {"domain": [2010, 2020], "nice": false}, "axis": {"values": [2010, 2012, 2014, 2016, 2018, 2020], "format": "d", "title": null}}},
    "layer": [
     {"mark": {"type": "area", "opacity": 0.22}, "encoding": {"y": {"field": "lo", "type": "quantitative", "scale": {"domain": [0, 41100], "nice": false}, "axis": {"values": [0, 10000, 20000, 30000, 40000], "format": "d", "title": "Number of deaths"}}, "y2": {"field": "hi"}, "color": {"field": "c", "type": "nominal"}}},
     {"mark": {"type": "line", "strokeWidth": 0.9, "opacity": 0.7}, "encoding": {"y": {"field": "hi", "type": "quantitative", "axis": {"values": [0, 10000, 20000, 30000, 40000], "format": "d", "title": "Number of deaths"}}, "color": {"field": "c", "type": "nominal"}}},
     {"mark": {"type": "line", "strokeWidth": 0.9, "opacity": 0.7}, "encoding": {"y": {"field": "lo", "type": "quantitative", "axis": {"values": [0, 10000, 20000, 30000, 40000], "format": "d", "title": "Number of deaths"}}, "color": {"field": "c", "type": "nominal"}}},
     {"mark": {"type": "line", "strokeWidth": 1.8}, "encoding": {"y": {"field": "m", "type": "quantitative", "axis": {"values": [0, 10000, 20000, 30000, 40000], "format": "d", "title": "Number of deaths"}}, "color": {"field": "c", "type": "nominal"}}}
    ]},
   {"width": 203, "height": 148,
    "title": {"text": "Western Pacific", "dx": 13, "offset": -3},
    "transform": [{"filter": "datum.r === 'Western Pacific'"}],
    "encoding": {"x": {"field": "y", "type": "quantitative", "scale": {"domain": [2010, 2020], "nice": false}, "axis": {"values": [2010, 2012, 2014, 2016, 2018, 2020], "format": "d", "title": null}}},
    "layer": [
     {"mark": {"type": "area", "opacity": 0.22}, "encoding": {"y": {"field": "lo", "type": "quantitative", "scale": {"domain": [0, 200000], "nice": false}, "axis": {"values": [0, 50000, 100000, 150000, 200000], "format": "d", "title": "Number of deaths"}}, "y2": {"field": "hi"}, "color": {"field": "c", "type": "nominal"}}},
     {"mark": {"type": "line", "strokeWidth": 0.9, "opacity": 0.7}, "encoding": {"y": {"field": "hi", "type": "quantitative", "axis": {"values": [0, 50000, 100000, 150000, 200000], "format": "d", "title": "Number of deaths"}}, "color": {"field": "c", "type": "nominal"}}},
     {"mark": {"type": "line", "strokeWidth": 0.9, "opacity": 0.7}, "encoding": {"y": {"field": "lo", "type": "quantitative", "axis": {"values": [0, 50000, 100000, 150000, 200000], "format": "d", "title": "Number of deaths"}}, "color": {"field": "c", "type": "nominal"}}},
     {"mark": {"type": "line", "strokeWidth": 1.8}, "encoding": {"y": {"field": "m", "type": "quantitative", "axis": {"values": [0, 50000, 100000, 150000, 200000], "format": "d", "title": "Number of deaths"}}, "color": {"field": "c", "type": "nominal"}}}
    ]}
  ], "spacing": 52}
 ], "spacing": 64}
]
}
